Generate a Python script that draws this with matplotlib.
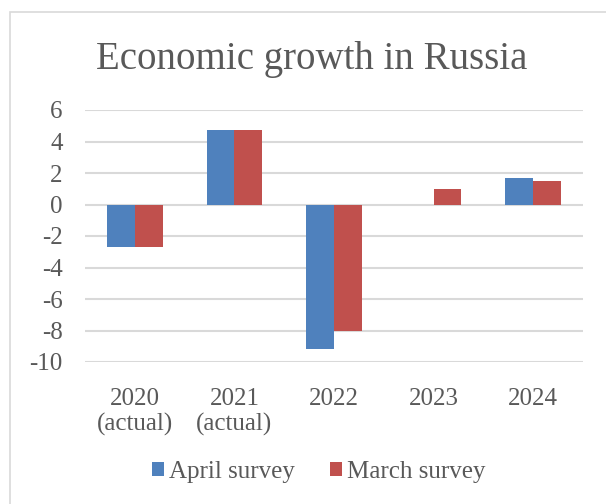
import matplotlib
matplotlib.use("Agg")
import matplotlib.pyplot as plt
import numpy as np
from matplotlib.patches import Rectangle

categories = ["2020\n(actual)", "2021\n(actual)", "2022", "2023", "2024"]
april = [-2.7, 4.7, -9.2, 0.0, 1.7]
march = [-2.7, 4.7, -8.0, 1.0, 1.5]
yticks = [6, 4, 2, 0, -2, -4, -6, -8, -10]

TEXT = "#595959"
GRID = "#d9d9d9"
BLUE = "#4f81bd"
RED = "#c0504d"

plt.rcParams["font.family"] = ["Liberation Serif", "DejaVu Serif"]

fig = plt.figure(figsize=(6.06, 5.04), dpi=100)
W, H = 606, 504
ax = fig.add_axes([85 / W, 1 - 362 / H, (583 - 85) / W, (362 - 110) / H])

# chart border (only top/left visible in the reference)
fig.patches.append(Rectangle((10 / W, -0.1), 1.2, 1 - 12 / H + 0.1,
                             transform=fig.transFigure, fill=False,
                             edgecolor=GRID, linewidth=1.2))

x = np.arange(len(categories))
w = 0.28
ax.bar(x - w / 2, april, w, color=BLUE, label="April survey", zorder=3)
ax.bar(x + w / 2, march, w, color=RED, label="March survey", zorder=3)

ax.set_xlim(-0.5, len(categories) - 0.5)
ax.set_ylim(-10, 6)
ax.set_yticks(yticks)
ax.set_yticklabels([str(v) for v in yticks])
ax.set_xticks(x)
ax.set_xticklabels(categories, linespacing=1.12)
ax.yaxis.grid(True, color=GRID, linewidth=1.5, zorder=0)
ax.set_axisbelow(True)
for s in ax.spines.values():
    s.set_visible(False)
ax.tick_params(axis="both", length=0, colors=TEXT, labelsize=18)
ax.tick_params(axis="x", pad=19)
ax.tick_params(axis="y", pad=16)

fig.text(0.514, 1 - 69 / H, "Economic growth in Russia", ha="center", va="baseline",
         fontsize=28, color=TEXT)

leg = fig.legend(loc="center", bbox_to_anchor=(0.526, 1 - 472 / H), ncol=2,
                 frameon=False, fontsize=18, handlelength=0.48, handleheight=0.48,
                 handletextpad=0.22, columnspacing=1.4)
for t in leg.get_texts():
    t.set_color(TEXT)

fig.savefig("out.png", dpi=100)
